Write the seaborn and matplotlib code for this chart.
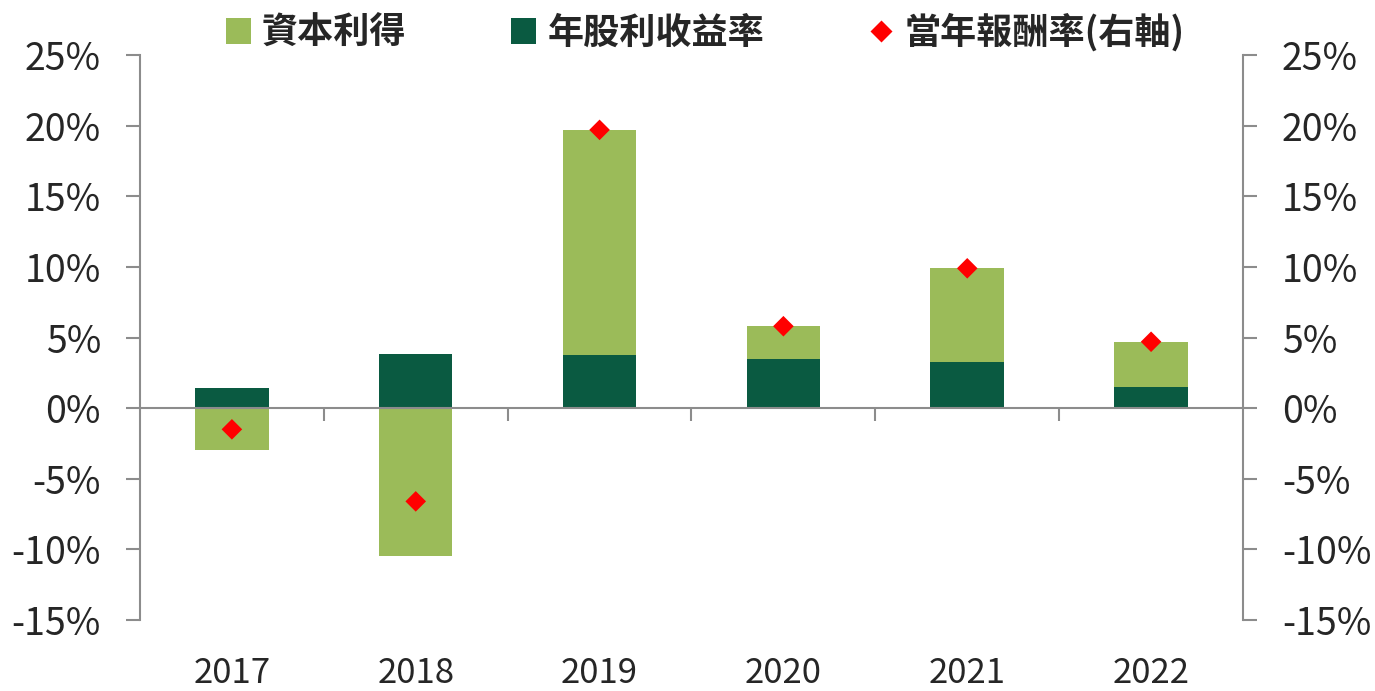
import numpy as np
import pandas as pd
import matplotlib
matplotlib.use("Agg")
import matplotlib.pyplot as plt
import seaborn as sns
from matplotlib.ticker import FuncFormatter, FixedLocator
from matplotlib.lines import Line2D
from matplotlib.patches import Patch

# data (percent)
years = ["2017", "2018", "2019", "2020", "2021", "2022"]
dividend_yield = [1.45, 3.85, 3.75, 3.5, 3.25, 1.5]          # 年股利收益率
capital_gain = [-2.95, -10.45, 15.95, 2.3, 6.65, 3.2]        # 資本利得
total_return = [-1.5, -6.6, 19.7, 5.8, 9.9, 4.7]             # 當年報酬率(右軸)

light_green = "#9BBB59"
dark_green = "#0A5A41"
axis_gray = "#8C8C8C"

sns.set_style("white")
plt.rcParams["font.family"] = ["Noto Sans CJK TC", "DejaVu Sans"]

df = pd.DataFrame({"year": years, "div": dividend_yield, "cg": capital_gain, "tot": total_return})
# capital gain bar stacks on dividend when positive, hangs from zero when negative
df["cg_top"] = np.where(df["cg"] > 0, df["div"] + df["cg"], df["cg"])

fig = plt.figure(figsize=(13.75, 6.91), dpi=100)
ax = fig.add_axes([0.1018, 0.1027, 0.8022, 0.8177])

sns.barplot(data=df, x="year", y="cg_top", color=light_green, width=0.4,
            saturation=1, linewidth=0, ax=ax)
sns.barplot(data=df, x="year", y="div", color=dark_green, width=0.4,
            saturation=1, linewidth=0, ax=ax)

ax.set_xlim(-0.5, 5.5)
ax.set_ylim(-15, 25)
ax.set_yticks(np.arange(-15, 26, 5))
pct = FuncFormatter(lambda v, p: f"{v:.0f}%")
ax.yaxis.set_major_formatter(pct)
ax.set_xlabel("")
ax.set_ylabel("")

# x axis: zero line with boundary ticks, year labels at bottom
ax.spines["top"].set_position(("data", 0))
ax.spines["top"].set_color(axis_gray)
ax.spines["top"].set_linewidth(1.5)
ax.spines["bottom"].set_visible(False)
ax.spines["left"].set_color(axis_gray)
ax.spines["left"].set_linewidth(1.5)
ax.spines["right"].set_visible(False)
ax.xaxis.set_minor_locator(FixedLocator(np.arange(0.5, 5, 1)))
ax.tick_params(axis="x", which="major", length=0, pad=26, labelsize=25, bottom=True, top=False)
ax.tick_params(axis="x", which="minor", top=True, bottom=False, direction="in",
               length=9, width=1.5, color=axis_gray)
ax.tick_params(axis="y", which="major", left=True, direction="out", length=10, width=1.5,
               color=axis_gray, labelsize=27, pad=18)

ax2 = ax.twinx()
sns.scatterplot(x=np.arange(len(years)), y=df["tot"], marker="D", color="#FF0000",
                s=110, edgecolor="none", ax=ax2, zorder=5)
ax2.set_ylim(-15, 25)
ax2.set_yticks(np.arange(-15, 26, 5))
ax2.yaxis.set_major_formatter(pct)
ax2.set_ylabel("")
for s in ["top", "bottom", "left"]:
    ax2.spines[s].set_visible(False)
ax2.spines["right"].set_color(axis_gray)
ax2.spines["right"].set_linewidth(1.5)
ax2.tick_params(axis="y", right=True, direction="out", length=10, width=1.5,
                color=axis_gray, labelsize=27, pad=18)

handles = [
    Patch(facecolor=light_green, edgecolor="none"),
    Patch(facecolor=dark_green, edgecolor="none"),
    Line2D([0], [0], marker="D", color="none", markerfacecolor="#FF0000",
           markeredgecolor="none", markersize=11),
]
labels = ["資本利得", "年股利收益率", "當年報酬率(右軸)"]
fig.legend(handles, labels, loc="center", bbox_to_anchor=(0.513, 0.953), ncol=3,
           frameon=False, prop={"size": 26, "weight": "bold"}, handlelength=0.7,
           handleheight=0.7, handletextpad=0.3, columnspacing=2.9)

fig.savefig("out.png", dpi=100)
